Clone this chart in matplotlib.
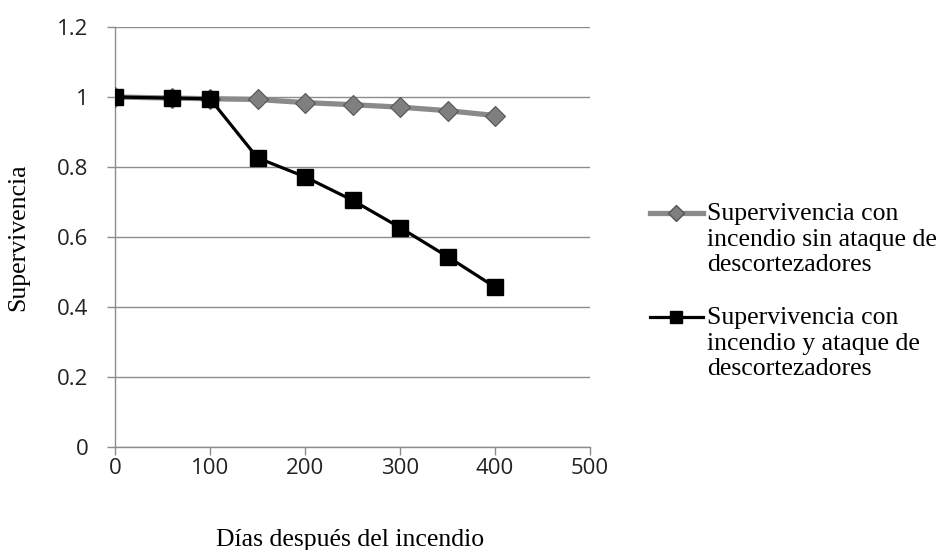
import matplotlib
matplotlib.use("Agg")
import matplotlib.pyplot as plt
from matplotlib.lines import Line2D

dias = [0, 60, 100, 150, 200, 250, 300, 350, 400]
sin_ataque = [1.0, 0.997, 0.995, 0.993, 0.984, 0.978, 0.971, 0.961, 0.947]
con_ataque = [1.0, 0.997, 0.995, 0.826, 0.772, 0.705, 0.627, 0.544, 0.457]
labels = ["Supervivencia con\nincendio sin ataque de\ndescortezadores",
          "Supervivencia con\nincendio y ataque de\ndescortezadores"]
xticks = [0, 100, 200, 300, 400, 500]
yticks = [0, 0.2, 0.4, 0.6, 0.8, 1.0, 1.2]
yticklabels = ["0", "0.2", "0.4", "0.6", "0.8", "1", "1.2"]

fig = plt.figure(figsize=(9.49, 5.5), dpi=100)
ax = fig.add_axes([115/949, 103/550, 475/949, 420/550])

gray_kw = dict(color="#8a8a8a", lw=3.8, marker="D", ms=10.5, mfc="#7f7f7f", mec="#555555", mew=0.8)
black_kw = dict(color="black", lw=2.3, marker="s", ms=12, mfc="black", mec="black")
ax.plot(dias, sin_ataque, zorder=3, **gray_kw)
ax.plot(dias, con_ataque, zorder=4, **black_kw)

ax.set_xlim(0, 500)
ax.set_ylim(0, 1.2)
ax.set_xticks(xticks)
ax.set_yticks(yticks)
ax.set_yticklabels(yticklabels)
ax.yaxis.grid(True, color="#8c8c8c", lw=1)
ax.set_axisbelow(True)
for s in ["top", "right"]:
    ax.spines[s].set_visible(False)
for s in ["left", "bottom"]:
    ax.spines[s].set_color("#8c8c8c")
    ax.spines[s].set_linewidth(1)
ax.tick_params(axis="both", colors="#8c8c8c", width=1, labelcolor="#222222",
               labelsize=16, direction="out")
ax.tick_params(axis="x", length=6, pad=2)
ax.tick_params(axis="y", length=6, pad=13)
for lab in ax.get_xticklabels() + ax.get_yticklabels():
    lab.set_family("Open Sans")

serif = "Liberation Serif"
fig.text(350/949, 1 - 540/550, "Días después del incendio", ha="center", va="center",
         family=serif, fontsize=18.5)
fig.text(18/949, 1 - 237/550, "Supervivencia", ha="center", va="center", rotation=90,
         family=serif, fontsize=18.5)

# manual legend
entries = [(213, gray_kw, labels[0]), (317, black_kw, labels[1])]
for ypix, kw, lab in entries:
    yf = 1 - ypix/550
    ln = Line2D([650/949, 703/949], [yf, yf], transform=fig.transFigure,
                color=kw["color"], lw=kw["lw"])
    fig.add_artist(ln)
    mk = Line2D([676/949], [yf], transform=fig.transFigure, marker=kw["marker"],
                ms=kw["ms"] * 0.75, mfc=kw["mfc"], mec=kw["mec"], ls="none")
    fig.add_artist(mk)
    fig.text(707/949, 1 - (ypix - 10)/550, lab, ha="left", va="top", family=serif,
             fontsize=18.5, linespacing=1.22)

fig.savefig("out.png", dpi=100)
